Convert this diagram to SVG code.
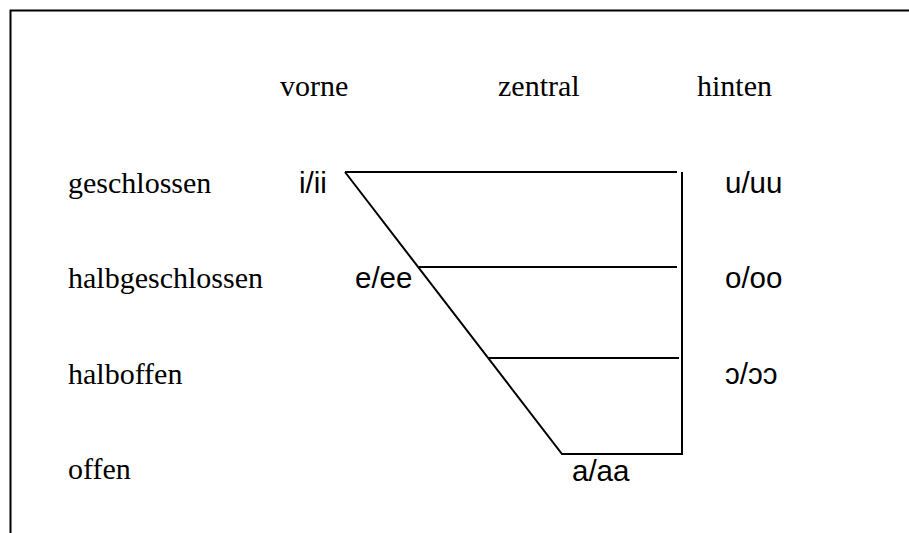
<svg xmlns="http://www.w3.org/2000/svg" width="909" height="533" viewBox="0 0 909 533">
<style>
.s{font-family:"Liberation Serif","Times New Roman",serif;font-size:30px;fill:#000}
.a{font-family:"Liberation Sans",Arial,sans-serif;font-size:29.5px;fill:#000}
.ln{stroke:#000;stroke-width:2;fill:none}
</style>
<rect width="909" height="533" fill="#fff"/>
<g id="frame"><path class="ln" d="M10.5 533V10.5H909" stroke-width="3"/></g>
<g id="headers">
<text class="s" x="280" y="96">vorne</text>
<text class="s" x="498" y="96">zentral</text>
<text class="s" x="697" y="96">hinten</text>
</g>
<g id="rows">
<text class="s" x="68" y="193">geschlossen</text>
<text class="s" x="68" y="288">halbgeschlossen</text>
<text class="s" x="68" y="384">halboffen</text>
<text class="s" x="68" y="479">offen</text>
</g>
<g id="vowels">
<text class="a" x="299" y="193">i/ii</text>
<text class="a" x="355" y="288">e/ee</text>
<text class="a" x="725" y="193">u/uu</text>
<text class="a" x="725" y="288">o/oo</text>
<text class="a" x="725" y="384">ɔ/ɔɔ</text>
<text class="a" x="572" y="481">a/aa</text>
</g>
<g id="connectors">
<path class="ln" d="M345 172H677M345 172L562 454H683M682 172V454M419 267H677M488 358H679"/>
</g>
</svg>
